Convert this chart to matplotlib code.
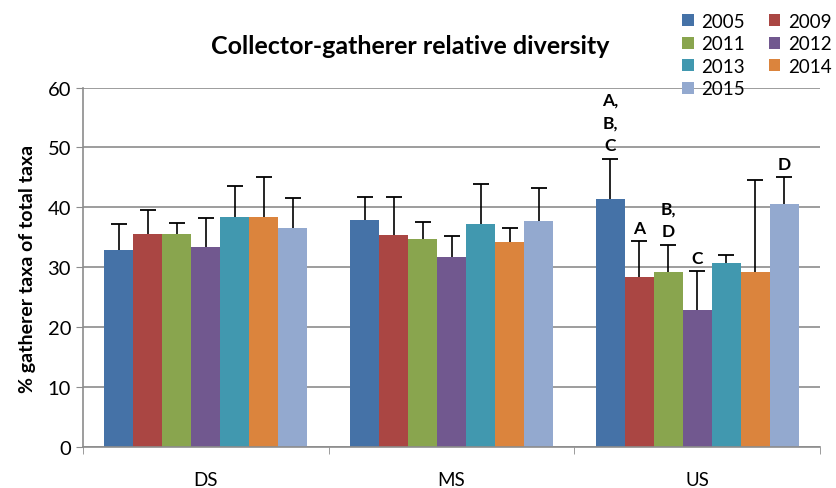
import matplotlib.pyplot as plt
import numpy as np

plt.rcParams['font.family'] = ['Lato', 'DejaVu Sans']

# Data
sites = ['DS', 'MS', 'US']
years = ['2005', '2009', '2011', '2012', '2013', '2014', '2015']
colors = ['#4572A7', '#AA4643', '#89A54E', '#71588F', '#4198AF', '#DB843D', '#93A9CF']

means = {
    '2005': [32.9, 37.9, 41.4],
    '2009': [35.6, 35.4, 28.4],
    '2011': [35.6, 34.7, 29.2],
    '2012': [33.4, 31.8, 22.9],
    '2013': [38.4, 37.3, 30.8],
    '2014': [38.4, 34.3, 29.2],
    '2015': [36.6, 37.7, 40.6],
}
err_tops = {
    '2005': [37.3, 41.7, 48.1],
    '2009': [39.5, 41.8, 34.4],
    '2011': [37.4, 37.6, 33.8],
    '2012': [38.3, 35.2, 29.4],
    '2013': [43.6, 43.9, 32.1],
    '2014': [45.0, 36.5, 44.5],
    '2015': [41.5, 43.3, 45.0],
}
# significance letters for US site
us_letters = {'2005': 'A,\nB,\nC', '2009': 'A', '2011': 'B,\nD', '2012': 'C', '2015': 'D'}

fig = plt.figure(figsize=(8.37, 4.89), dpi=100)
ax = fig.add_axes([0.099, 0.083, 0.881, 0.736])

x = np.arange(len(sites))
width = 0.118
handles = []
for i, yr in enumerate(years):
    pos = x - 3 * width + i * width
    vals = np.array(means[yr])
    tops = np.array(err_tops[yr])
    h = ax.bar(pos, vals, width, color=colors[i], label=yr, zorder=2)
    handles.append(h)
    # one-sided (upper) error bars
    ax.vlines(pos, vals, tops, color='black', linewidth=1.2, zorder=3)
    ax.plot(pos, tops, ls='none', marker='_', markersize=11, markeredgewidth=1.3,
            color='black', zorder=3)
    if yr in us_letters:
        ax.text(pos[2], err_tops[yr][2] + 0.9, us_letters[yr], ha='center', va='bottom',
                fontsize=12.5, fontweight='bold', linespacing=1.55)

ax.set_ylim(0, 60)
ax.set_xlim(-0.5, 2.5)
ax.set_yticks(range(0, 61, 10))
ax.yaxis.grid(True, color='#8c8c8c', linewidth=1.2, zorder=0)
ax.set_axisbelow(True)

ax.set_xticks(x)
ax.set_xticklabels(sites)
ax.set_xticks([-0.5, 0.5, 1.5, 2.5], minor=True)
ax.tick_params(axis='x', which='major', length=0, labelsize=13.5, pad=17)
ax.tick_params(axis='x', which='minor', length=5, color='#8c8c8c')
ax.tick_params(axis='y', length=5, color='#8c8c8c', labelsize=14.5)

for s in ['top', 'right']:
    ax.spines[s].set_visible(False)
for s in ['left', 'bottom']:
    ax.spines[s].set_color('#8c8c8c')
    ax.spines[s].set_linewidth(1.2)

ax.set_ylabel('% gatherer taxa of total taxa', fontsize=14, fontweight='bold', labelpad=8)
fig.text(0.49, 0.905, 'Collector-gatherer relative diversity', ha='center', va='center',
         fontsize=18, fontweight='bold')

# legend filled row by row, two columns
order = [0, 2, 4, 6, 1, 3, 5]
ax.legend([handles[k] for k in order], [years[k] for k in order],
          loc='upper left', bbox_to_anchor=(0.79, 1.255), ncol=2, frameon=False,
          fontsize=13.5, handlelength=0.6, handleheight=0.6, handletextpad=0.4,
          columnspacing=1.3, labelspacing=0.3)

fig.savefig('out.png', dpi=100)
